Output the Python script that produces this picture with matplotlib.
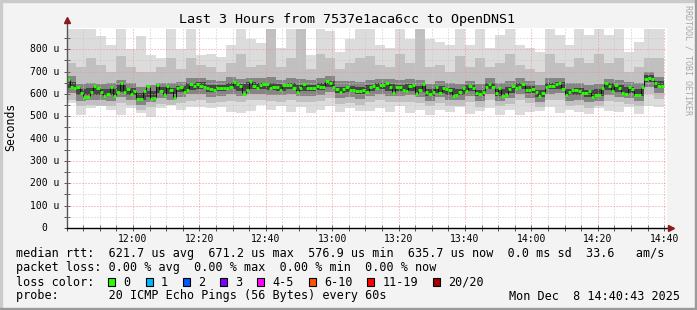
import matplotlib
matplotlib.use("Agg")
import matplotlib.pyplot as plt
from matplotlib.patches import Rectangle
import numpy as np

W, H = 697, 310
MONO = "DejaVu Sans Mono"

# median rtt in microseconds, one value per minute starting 11:40
median_us = [
    665, 629, 625, 631, 604, 588, 588, 610, 637, 628,
    610, 592, 601, 631, 592, 610, 649, 610, 622, 601,
    613, 577, 577, 613, 637, 577, 583, 641, 614, 595,
    637, 619, 583, 625, 631, 610, 619, 646, 637, 646,
    637, 631, 628, 622, 619,
    628, 625, 625, 625, 629, 653, 646, 637, 601, 619,
    658, 637, 625, 640, 646, 646, 625, 631, 631, 619,
    640, 640, 640, 625, 610, 625, 646, 628, 628, 628,
    637, 631, 631, 658, 649, 631, 622, 610, 622, 631,
    619, 619, 613, 613, 619,
    610, 631, 637, 625, 640, 640, 649, 631, 604, 631,
    631, 619, 613, 637, 640, 601, 619, 646, 610, 598,
    610, 631, 604, 628, 622, 619, 589, 595, 610, 625,
    613, 637, 628, 604, 598, 610, 631, 646, 631, 604,
    625, 589, 595, 622, 637,
    628, 631, 646, 619, 619, 622, 610, 592, 604, 631,
    637, 637, 646, 649, 622, 595, 610, 619, 619, 613,
    604, 604, 613, 586, 595, 595, 628, 649, 637, 613,
    640, 628, 604, 601, 631, 622, 595, 595, 631, 667,
    673, 667, 649, 637, 637,
]

# smoke bands, one value per 3 minutes (microseconds)
smoke_max = [
    890, 890, 890, 860, 820, 890, 800, 860, 775, 760, 890, 800, 890, 775, 780,
    766, 818, 890, 848, 830, 890, 804, 890, 890, 774, 890, 880, 789, 848, 890,
    890, 818, 804, 890, 848, 890, 848, 833, 818, 890, 818, 890, 804, 863, 890,
    818, 804, 789, 890, 863, 818, 890, 863, 890, 863, 890, 789, 833, 890, 890,
]
smoke_p90 = [
    740, 720, 760, 730, 700, 770, 720, 700, 700, 720, 760, 710, 760, 730, 720,
    700, 740, 780, 720, 730, 890, 720, 760, 890, 710, 780, 760, 710, 740, 760,
    770, 730, 720, 780, 740, 890, 720, 730, 700, 770, 720, 760, 720, 740, 780,
    730, 710, 700, 780, 740, 720, 760, 740, 780, 740, 760, 700, 720, 760, 760,
]
smoke_p75 = [
    680, 643, 650, 643, 648, 661, 647, 629, 641, 651, 651, 655, 670, 673, 663,
    660, 674, 668, 671, 673, 674, 664, 671, 667, 663, 671, 681, 656, 659, 655,
    664, 669, 668, 663, 668, 664, 644, 656, 650, 646, 660, 644, 672, 648, 656,
    670, 656, 642, 671, 673, 648, 650, 641, 646, 669, 662, 654, 647, 699, 677,
]
smoke_p60 = [
    654, 622, 626, 624, 622, 638, 626, 604, 614, 631, 628, 636, 649, 652, 638,
    640, 651, 643, 652, 651, 649, 644, 650, 642, 642, 648, 660, 633, 637, 630,
    641, 649, 643, 641, 645, 637, 621, 635, 625, 624, 640, 619, 650, 621, 633,
    649, 634, 617, 649, 653, 623, 626, 616, 621, 647, 639, 632, 622, 683, 656,
]
smoke_p40 = [
    626, 593, 597, 595, 593, 608, 597, 574, 584, 602, 598, 607, 619, 623, 608,
    611, 621, 613, 623, 622, 619, 615, 620, 612, 613, 618, 631, 603, 608, 600,
    611, 620, 613, 612, 615, 607, 591, 606, 595, 595, 611, 589, 621, 591, 603,
    620, 605, 587, 620, 624, 593, 597, 586, 591, 618, 609, 603, 592, 652, 626,
]
smoke_p25 = [
    602, 570, 575, 572, 570, 585, 575, 552, 562, 580, 575, 585, 598, 600, 585,
    590, 598, 590, 600, 600, 596, 593, 598, 590, 592, 596, 608, 580, 586, 578,
    590, 598, 590, 590, 593, 585, 568, 584, 573, 573, 590, 567, 598, 568, 580,
    598, 583, 565, 598, 602, 570, 575, 563, 568, 596, 587, 580, 570, 630, 603,
]
smoke_p10 = [
    575, 545, 550, 548, 545, 560, 550, 530, 540, 555, 550, 560, 570, 575, 560,
    562, 570, 565, 575, 572, 570, 566, 572, 565, 565, 570, 580, 555, 560, 552,
    562, 572, 565, 565, 566, 560, 545, 558, 548, 548, 565, 542, 572, 545, 555,
    572, 558, 540, 572, 575, 545, 550, 538, 545, 570, 562, 556, 545, 600, 578,
]
smoke_min = [
    558, 506, 535, 550, 528, 506, 535, 513, 498, 535, 550, 528, 543, 543, 535,
    540, 520, 513, 525, 550, 530, 545, 520, 540, 515, 530, 545, 520, 535, 525,
    525, 535, 520, 545, 515, 530, 505, 530, 520, 540, 510, 525, 535, 505, 530,
    505, 520, 525, 540, 515, 530, 520, 510, 535, 525, 520, 540, 510, 545, 540,
]

y_ticks = [0, 100, 200, 300, 400, 500, 600, 700, 800]
x_tick_labels = ["12:00", "12:20", "12:40", "13:00", "13:20", "13:40", "14:00", "14:20", "14:40"]

loss_labels = ["0", "1", "2", "3", "4-5", "6-10", "11-19", "20/20"]
loss_colors = ["#26ff00", "#00b8ff", "#0059ff", "#7e00ff", "#ff00ff", "#ff5500", "#ff0000", "#a10000"]

title = "Last 3 Hours from 7537e1aca6cc to OpenDNS1"
line_rtt = "median rtt:  621.7 us avg  671.2 us max  576.9 us min  635.7 us now  0.0 ms sd  33.6   am/s"
line_loss = "packet loss: 0.00 % avg  0.00 % max  0.00 % min  0.00 % now"
line_probe = "probe:       20 ICMP Echo Pings (56 Bytes) every 60s"
stamp = "Mon Dec  8 14:40:43 2025"


def px(x, y):
    return x / W, 1 - y / H


fig = plt.figure(figsize=(W / 100, H / 100), dpi=100, facecolor="#f3f3f3")

# frame
fig.patches.append(Rectangle((0, 0), 2 / W, 1, transform=fig.transFigure, color="#cbcbcb", zorder=0))
fig.patches.append(Rectangle((0, 1 - 2 / H), 1, 2 / H, transform=fig.transFigure, color="#cbcbcb", zorder=0))
fig.patches.append(Rectangle((1 - 2 / W, 0), 2 / W, 1, transform=fig.transFigure, color="#9a9a9a", zorder=0))
fig.patches.append(Rectangle((0, 0), 1, 2 / H, transform=fig.transFigure, color="#9a9a9a", zorder=0))

ax = fig.add_axes([66.5 / W, (H - 228) / H, 600 / W, 200 / H])
ax.set_facecolor("white")
t0 = 43 / 60
ax.set_xlim(t0, 180 + t0)
ax.set_ylim(0, 895)

# smoke
blk = np.arange(len(smoke_max) + 1) * 3


def band(lo, hi, color):
    ax.fill_between(blk, lo + lo[-1:], hi + hi[-1:], step="post", color=color, lw=0, zorder=1)


band(smoke_min, smoke_max, "#dcdcdc")
band(smoke_p10, smoke_p90, "#c0c0c0")
band(smoke_p25, smoke_p75, "#858585")
band(smoke_p40, smoke_p60, "#454545")

# grid
for m in range(0, 185, 5):
    if m % 20 == 0:
        ax.axvline(m, color="#e89595", lw=0.72, ls=(0, (1, 2)), zorder=2)
    else:
        ax.axvline(m, color="#c8c8c8", lw=0.72, ls=(0, (1, 2)), zorder=2)
for v in range(50, 900, 50):
    if v % 100 == 0:
        ax.axhline(v, color="#e89595", lw=0.72, ls=(0, (1, 2)), zorder=2)
    else:
        ax.axhline(v, color="#c8c8c8", lw=0.72, ls=(0, (1, 2)), zorder=2)

# median
med = np.array(median_us, dtype=float)
edges = np.arange(len(med) + 1)
ax.vlines(edges[1:-1], med[:-1], med[1:], color="#111111", lw=0.72, zorder=3)
ax.hlines(med, edges[:-1], edges[1:], color=loss_colors[0], lw=2.1, zorder=4)

for s in ax.spines.values():
    s.set_visible(False)

# axes lines with arrows
ax.plot([0, 0], [0, 1.04], transform=ax.transAxes, color="#555555", lw=1, clip_on=False, zorder=5)
ax.plot([0], [1.04], transform=ax.transAxes, marker="^", ms=4, color="#8b1a1a", clip_on=False, zorder=6)
ax.plot([0, 1.008], [0, 0], transform=ax.transAxes, color="black", lw=1, clip_on=False, zorder=5)
ax.plot([1.008], [0], transform=ax.transAxes, marker=">", ms=4, color="#8b1a1a", clip_on=False, zorder=6)

ax.set_xticks([20 + 20 * i for i in range(len(x_tick_labels))])
ax.set_xticklabels(x_tick_labels, family=MONO, fontsize=7)
ax.set_xticks(range(0, 185, 5), minor=True)
ax.tick_params(axis="x", which="both", direction="inout", length=4, width=0.7, color="#555555", pad=2.5)
ax.set_yticks(y_ticks)
ax.set_yticklabels([])
ax.set_yticks(range(50, 900, 100), minor=True)
ax.tick_params(axis="y", which="both", direction="inout", length=4, width=0.7, color="#555555")

for v in y_ticks:
    lbl = "%d u" % v if v else "0"
    off = -7 if v else -19
    ax.annotate(lbl, xy=(0, v), xycoords=("axes fraction", "data"), xytext=(off, 0),
                textcoords="offset pixels", ha="right", va="center", family=MONO, fontsize=7)

fig.text(*px(347, 19), title, family=MONO, fontsize=9.6, ha="center", va="center")
fig.text(*px(11, 127), "Seconds", family=MONO, fontsize=8.3, rotation=90, ha="center", va="center")
fig.text(*px(688, 60), "RRDTOOL / TOBI OETIKER", family=MONO, fontsize=6, rotation=-90,
         ha="center", va="center", color="#a8a8a8")

fs = 8.5
cw = 7.1
fig.text(*px(16, 254), line_rtt, family=MONO, fontsize=fs, va="center")
fig.text(*px(16, 268), line_loss, family=MONO, fontsize=fs, va="center")
fig.text(*px(16, 282), "loss color:", family=MONO, fontsize=fs, va="center")
fig.text(*px(16, 296), line_probe, family=MONO, fontsize=fs, va="center")
fig.text(*px(680, 296), stamp, family=MONO, fontsize=fs, va="center", ha="right")

cur = 16 + 13 * cw
for lab, col in zip(loss_labels, loss_colors):
    x0, y0 = px(cur, 285.5)
    fig.patches.append(Rectangle((x0, y0), 7 / W, 7.5 / H, transform=fig.transFigure,
                                 facecolor=col, edgecolor="black", lw=0.8))
    fig.text(*px(cur + 2.1 * cw, 282), lab, family=MONO, fontsize=fs, va="center")
    cur += (len(lab) + 4.25) * cw

fig.savefig("out.png", dpi=100, facecolor=fig.get_facecolor())
